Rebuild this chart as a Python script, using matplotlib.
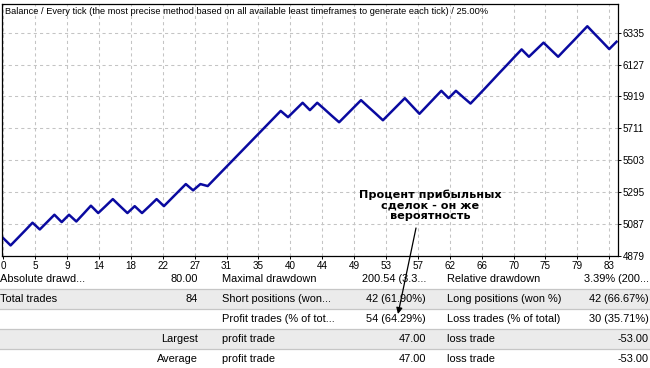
import matplotlib
matplotlib.use("Agg")
import matplotlib.pyplot as plt
from matplotlib.patches import Rectangle

# balance after each trade (trade 0 = start)
balance = [4995, 4948, 4997, 5046, 5096, 5052, 5100, 5148, 5100, 5148,
           5104, 5155, 5207, 5159, 5204, 5250, 5204, 5159, 5204, 5159,
           5204, 5250, 5204, 5252, 5300, 5348, 5307, 5348, 5335, 5384,
           5433, 5482, 5531, 5580, 5629, 5678, 5727, 5776, 5825, 5784,
           5831, 5878, 5830, 5878, 5836, 5793, 5751, 5799, 5847, 5895,
           5851, 5808, 5764, 5812, 5860, 5908, 5857, 5806, 5856, 5906,
           5956, 5908, 5956, 5914, 5873, 5923, 5973, 6024, 6075, 6125,
           6176, 6226, 6178, 6224, 6270, 6224, 6178, 6228, 6277, 6327,
           6377, 6327, 6278, 6228, 6276]

y_ticks = [4879, 5087, 5295, 5503, 5711, 5919, 6127, 6335]
x_labels = ["0", "5", "9", "14", "18", "22", "27", "31", "35", "40",
            "44", "49", "53", "57", "62", "66", "70", "75", "79", "83"]

title = ("Balance / Every tick (the most precise method based on all available "
         "least timeframes to generate each tick) / 25.00%")

table_rows = [
    ["Absolute drawd...", "80.00", "Maximal drawdown", "200.54 (3.3...",
     "Relative drawdown", "3.39% (200..."],
    ["Total trades", "84", "Short positions (won...", "42 (61.90%)",
     "Long positions (won %)", "42 (66.67%)"],
    ["", "", "Profit trades (% of tot...", "54 (64.29%)",
     "Loss trades (% of total)", "30 (35.71%)"],
    ["", "Largest", "profit trade", "47.00", "loss trade", "-53.00"],
    ["", "Average", "profit trade", "47.00", "loss trade", "-53.00"],
]

note = "Процент прибыльных\nсделок - он же\nвероятность"

W, H = 650, 368
plt.rcParams['font.family'] = ['Liberation Sans', 'DejaVu Sans']

fig = plt.figure(figsize=(W / 100, H / 100), dpi=100)
fig.patch.set_facecolor('white')

# main balance chart
ax = fig.add_axes([1.7 / W, 1 - 256 / H, 616 / W, 252 / H])
ax.plot(range(len(balance)), balance, color='#0a0aa0', lw=1.8,
        solid_joinstyle='round')
ax.set_xlim(-0.22, 84.16)
ax.set_ylim(4879, 6522)
ax.set_yticks(y_ticks)
ax.set_yticklabels([str(v) for v in y_ticks])
ax.yaxis.tick_right()
ax.set_xticks([k * 83 / 19 for k in range(len(x_labels))])
ax.set_xticklabels(x_labels)
ax.tick_params(axis='both', direction='out', length=2.2, width=0.7,
               labelsize=7.1, pad=1.5, colors='black')
ax.grid(True, color='#c4c4c4', linestyle=(0, (3, 3)), lw=0.75)
for s in ax.spines.values():
    s.set_color('black')
    s.set_linewidth(0.9)

# overlay in pixel coordinates for title, table and note
ov = fig.add_axes([0, 0, 1, 1], zorder=5)
ov.set_xlim(0, W)
ov.set_ylim(H, 0)
ov.axis('off')

ov.text(5, 12, title, fontsize=6.7, va='center', ha='left')

row_h = 20
top = 269
for r in (1, 3):
    ov.add_patch(Rectangle((0, top + r * row_h), W, row_h,
                           fc='#ebebeb', ec='none'))
for r in (1, 2, 3, 4):
    ov.plot([0, W], [top + r * row_h] * 2, color='#c6c6c6', lw=0.9)

col_x = [0.5, 198, 222, 426, 447, 648.5]
col_ha = ['left', 'right', 'left', 'right', 'left', 'right']
for r, row in enumerate(table_rows):
    yc = top + r * row_h + 10
    for c, txt in enumerate(row):
        if txt:
            ov.text(col_x[c], yc, txt, fontsize=7.9, ha=col_ha[c],
                    va='center')

ov.text(430, 205, note, fontsize=8.1, fontweight='bold', ha='center',
        va='center', family=['DejaVu Sans'], linespacing=1.05)
ov.annotate('', xy=(398, 314), xytext=(416, 228),
            arrowprops=dict(arrowstyle='-|>', color='black', lw=0.9,
                            mutation_scale=9, shrinkA=0, shrinkB=0))

fig.savefig('out.png', dpi=100)
